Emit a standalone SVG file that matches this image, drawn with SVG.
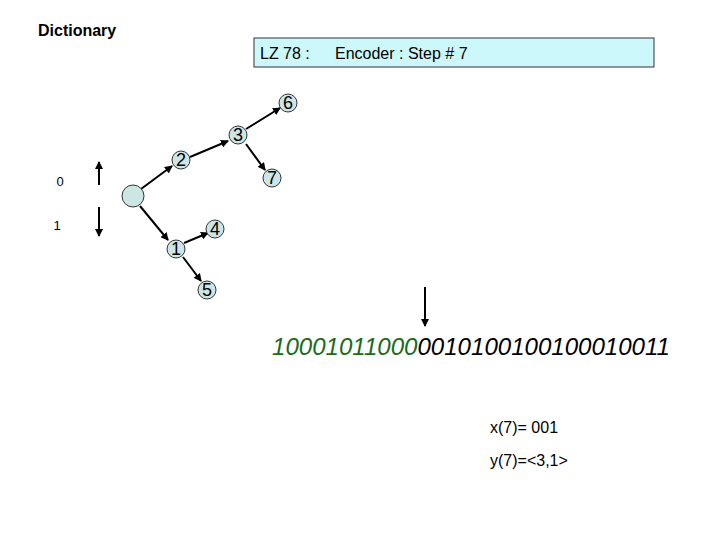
<svg xmlns="http://www.w3.org/2000/svg" width="720" height="540" viewBox="0 0 720 540">
<defs><marker id="ah" markerWidth="8" markerHeight="8" refX="7" refY="4" orient="auto" markerUnits="userSpaceOnUse"><path d="M0,0 L8,4 L0,8 z" fill="#000"/></marker></defs>
<style>text{font-family:"Liberation Sans",Arial,sans-serif}.n{fill:#cce6e6;stroke:#333;stroke-width:1}.l{font-size:18px;text-anchor:middle}.c{stroke:#000;stroke-width:2;marker-end:url(#ah)}</style>
<rect width="720" height="540" fill="#fff"/>
<text x="38" y="36" font-size="16" font-weight="bold">Dictionary</text>
<g id="title"><rect x="254" y="38" width="400" height="29" fill="#ccf7fb" stroke="#333"/><text x="260" y="59" font-size="16">LZ 78 :</text><text x="335" y="59" font-size="16">Encoder : Step # 7</text></g>
<text x="60" y="186" font-size="13" text-anchor="middle">0</text>
<text x="57" y="230" font-size="13" text-anchor="middle">1</text>
<g id="connectors">
<line class="c" x1="99" y1="185" x2="99" y2="162"/>
<line class="c" x1="99" y1="207" x2="99" y2="236"/>
<line class="c" x1="141" y1="189" x2="172" y2="166"/>
<line class="c" x1="190" y1="157" x2="228" y2="141"/>
<line class="c" x1="246" y1="129" x2="280" y2="108"/>
<line class="c" x1="246" y1="144" x2="265" y2="170"/>
<line class="c" x1="140" y1="206" x2="168" y2="240"/>
<line class="c" x1="184" y1="243" x2="208" y2="233"/>
<line class="c" x1="183" y1="257" x2="201" y2="281"/>
<line class="c" x1="425" y1="287" x2="425" y2="326"/>
</g>
<g id="root"><circle class="n" cx="133" cy="196" r="11"/></g>
<g id="n2"><circle class="n" cx="181" cy="160" r="9"/><text class="l" x="181" y="166">2</text></g>
<g id="n3"><circle class="n" cx="238" cy="135" r="9"/><text class="l" x="238" y="141">3</text></g>
<g id="n6"><circle class="n" cx="288" cy="103" r="9"/><text class="l" x="288" y="109">6</text></g>
<g id="n7"><circle class="n" cx="272" cy="178" r="9"/><text class="l" x="272" y="184">7</text></g>
<g id="n1"><circle class="n" cx="176" cy="249" r="9"/><text class="l" x="176" y="255">1</text></g>
<g id="n4"><circle class="n" cx="215" cy="229" r="9"/><text class="l" x="215" y="235">4</text></g>
<g id="n5"><circle class="n" cx="207" cy="290" r="9"/><text class="l" x="207" y="296">5</text></g>
<text x="272" y="355" font-size="24" font-style="italic" textLength="398" lengthAdjust="spacingAndGlyphs"><tspan fill="#1a6b1a">10001011000</tspan><tspan fill="#000">0010100100100010011</tspan></text>
<text x="490" y="433" font-size="16">x(7)= 001</text>
<text x="490" y="466" font-size="16">y(7)=&lt;3,1&gt;</text>
</svg>
